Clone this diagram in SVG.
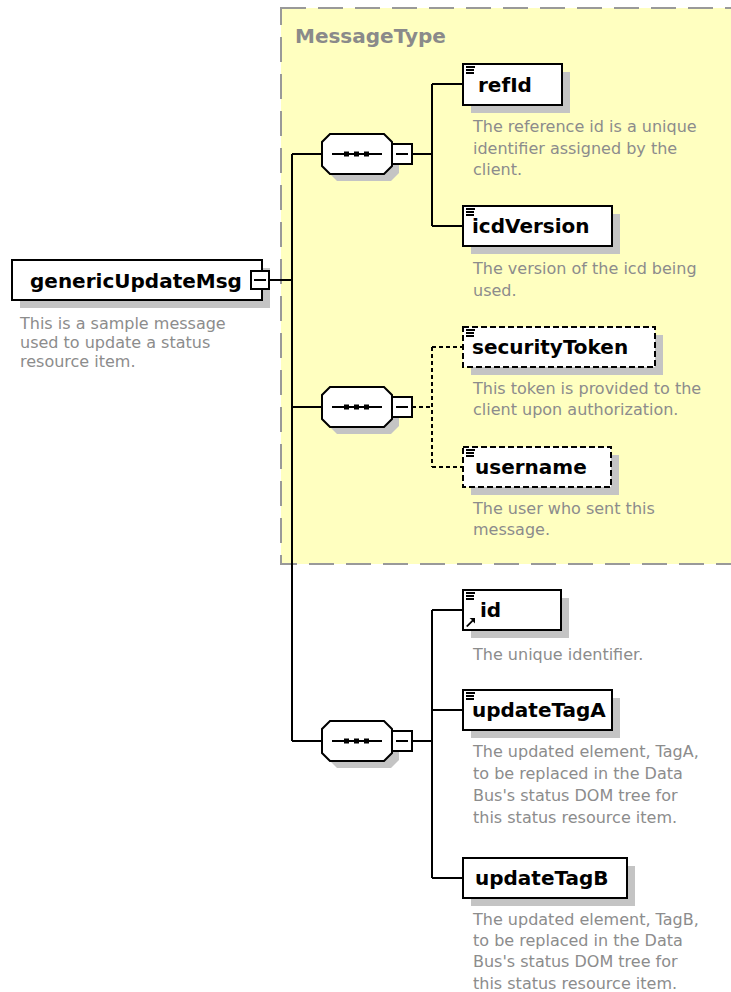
<svg xmlns="http://www.w3.org/2000/svg" width="731" height="992" viewBox="0 0 731 992">
  <style>
    .lbl { font-family: "DejaVu Sans", Verdana, sans-serif; font-weight: bold; font-size: 20px; fill: #000; }
    .doc { font-family: "DejaVu Sans", Verdana, sans-serif; font-size: 16px; fill: #8c8c8c; }
    .grp { font-family: "DejaVu Sans", Verdana, sans-serif; font-weight: bold; font-size: 20px; fill: #8a8a8a; }
    .box { fill: #fff; stroke: #000; stroke-width: 2; }
    .opt { fill: #fff; stroke: #000; stroke-width: 2; stroke-dasharray: 6 3; }
    .shadow { fill: #c4c4c4; }
    .wire { fill: none; stroke: #000; stroke-width: 2; }
    .dash { fill: none; stroke: #000; stroke-width: 2; stroke-dasharray: 4 3; }
  </style>
  <defs>
    <!-- sequence compositor, centred vertically on y=0 -->
    <g id="seq">
      <path class="shadow" d="M337,-13 H391 L399,-5 V19 L391,27 H337 L329,19 V-5 Z"/>
      <path d="M330,-20 H384 L392,-12 V12 L384,20 H330 L322,12 V-12 Z" fill="#fff" stroke="#000" stroke-width="2"/>
      <line x1="332" y1="0" x2="382" y2="0" stroke="#000" stroke-width="2"/>
      <rect x="344" y="-2.5" width="5" height="5" fill="#000"/>
      <rect x="354" y="-2.5" width="5" height="5" fill="#000"/>
      <rect x="364" y="-2.5" width="5" height="5" fill="#000"/>
      <rect x="392" y="-10" width="20" height="20" fill="#fff" stroke="#000" stroke-width="2"/>
      <line x1="396" y1="0" x2="408" y2="0" stroke="#000" stroke-width="2"/>
    </g>
    <!-- simple-content element marker -->
    <g id="icon">
      <rect x="0" y="0" width="9" height="2" fill="#000"/>
      <rect x="0" y="3" width="8" height="2" fill="#000"/>
      <rect x="0" y="6" width="8" height="2" fill="#000"/>
    </g>
  </defs>

  <!-- MessageType complex type area -->
  <g id="MessageType">
    <rect x="281" y="8" width="470" height="556" fill="#ffffc0" stroke="#999" stroke-width="2" stroke-dasharray="25 12"/>
    <text class="grp" x="295" y="43">MessageType</text>
  </g>

  <!-- connectors -->
  <g id="connectors">
    <path class="wire" d="M269,280 H292 M292,154 V741"/>
    <path class="wire" d="M292,154 H322 M412,154 H432 M432,84 V226 M432,84 H463 M432,226 H463"/>
    <path class="wire" d="M292,407 H322"/>
    <path class="dash" d="M412,407 H432 M432,347 V467 M432,347 H463 M432,467 H463"/>
    <path class="wire" d="M292,741 H322 M412,741 H432 M432,610 V878 M432,610 H463 M432,710 H463 M432,878 H463"/>
  </g>

  <!-- root element -->
  <g id="genericUpdateMsg">
    <rect class="shadow" x="20" y="268" width="250" height="40"/>
    <rect class="box" x="12" y="260" width="250" height="40"/>
    <rect x="251" y="271" width="18" height="18" fill="#fff" stroke="#000" stroke-width="2"/>
    <line x1="254" y1="280" x2="266" y2="280" stroke="#000" stroke-width="2"/>
    <text class="lbl" x="30" y="288">genericUpdateMsg</text>
    <text class="doc" x="20" y="329">This is a sample message</text>
    <text class="doc" x="20" y="348">used to update a status</text>
    <text class="doc" x="20" y="367">resource item.</text>
  </g>

  <!-- compositors -->
  <g id="sequence1"><use href="#seq" transform="translate(0,154)"/></g>
  <g id="sequence2"><use href="#seq" transform="translate(0,407)"/></g>
  <g id="sequence3"><use href="#seq" transform="translate(0,741)"/></g>

  <!-- child elements -->
  <g id="refId">
    <rect class="shadow" x="471" y="72" width="99" height="41"/>
    <rect class="box" x="463" y="64" width="99" height="41"/>
    <use href="#icon" transform="translate(466,66)"/>
    <text class="lbl" x="478" y="92">refId</text>
    <text class="doc" x="473" y="132">The reference id is a unique</text>
    <text class="doc" x="473" y="154">identifier assigned by the</text>
    <text class="doc" x="473" y="175">client.</text>
  </g>

  <g id="icdVersion">
    <rect class="shadow" x="471" y="214" width="149" height="40"/>
    <rect class="box" x="463" y="206" width="149" height="40"/>
    <use href="#icon" transform="translate(466,208)"/>
    <text class="lbl" x="472" y="233">icdVersion</text>
    <text class="doc" x="473" y="274">The version of the icd being</text>
    <text class="doc" x="473" y="296">used.</text>
  </g>

  <g id="securityToken">
    <rect class="shadow" x="471" y="335" width="192" height="40"/>
    <rect class="opt" x="463" y="327" width="192" height="40"/>
    <use href="#icon" transform="translate(466,329)"/>
    <text class="lbl" x="472" y="354">securityToken</text>
    <text class="doc" x="473" y="394">This token is provided to the</text>
    <text class="doc" x="473" y="415">client upon authorization.</text>
  </g>

  <g id="username">
    <rect class="shadow" x="471" y="455" width="148" height="40"/>
    <rect class="opt" x="463" y="447" width="148" height="40"/>
    <use href="#icon" transform="translate(466,449)"/>
    <text class="lbl" x="475" y="474">username</text>
    <text class="doc" x="473" y="514">The user who sent this</text>
    <text class="doc" x="473" y="535">message.</text>
  </g>

  <g id="id">
    <rect class="shadow" x="471" y="598" width="98" height="40"/>
    <rect class="box" x="463" y="590" width="98" height="40"/>
    <use href="#icon" transform="translate(466,592)"/>
    <path d="M466,626 L472,620 L469.5,618 H475 V623.5 L473,621.5 L467.5,627 Z" fill="#000"/>
    <text class="lbl" x="480" y="617">id</text>
    <text class="doc" x="473" y="660">The unique identifier.</text>
  </g>

  <g id="updateTagA">
    <rect class="shadow" x="471" y="698" width="149" height="40"/>
    <rect class="box" x="463" y="690" width="149" height="40"/>
    <use href="#icon" transform="translate(466,692)"/>
    <text class="lbl" x="472" y="717">updateTagA</text>
    <text class="doc" x="473" y="757">The updated element, TagA,</text>
    <text class="doc" x="473" y="779">to be replaced in the Data</text>
    <text class="doc" x="473" y="801">Bus's status DOM tree for</text>
    <text class="doc" x="473" y="823">this status resource item.</text>
  </g>

  <g id="updateTagB">
    <rect class="shadow" x="471" y="866" width="164" height="40"/>
    <rect class="box" x="463" y="858" width="164" height="40"/>
    <text class="lbl" x="475" y="885">updateTagB</text>
    <text class="doc" x="473" y="925">The updated element, TagB,</text>
    <text class="doc" x="473" y="946">to be replaced in the Data</text>
    <text class="doc" x="473" y="967">Bus's status DOM tree for</text>
    <text class="doc" x="473" y="989">this status resource item.</text>
  </g>
</svg>
